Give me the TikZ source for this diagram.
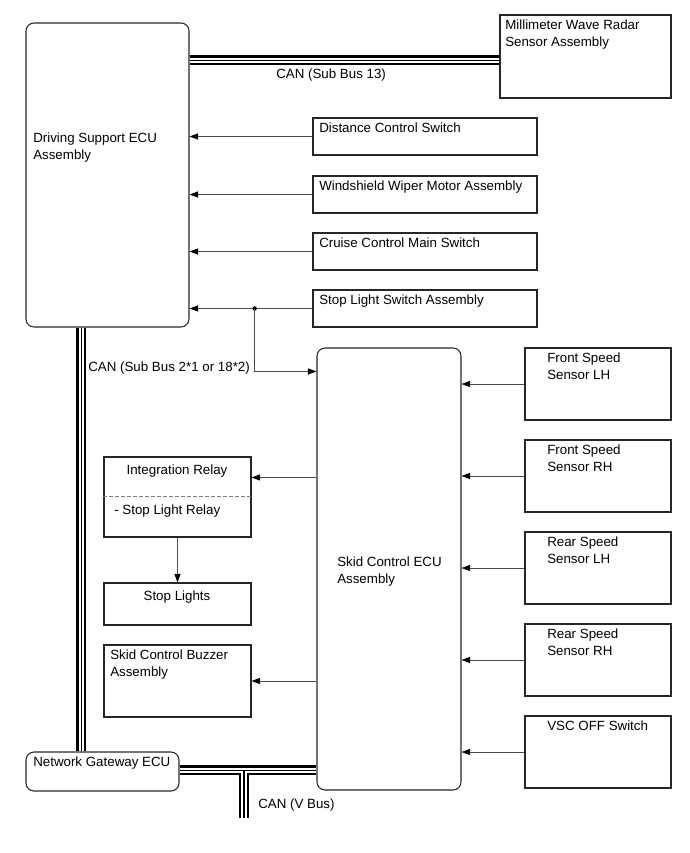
\documentclass[tikz,border=0pt]{standalone}
\usepackage{fontspec}
\setmainfont{Liberation Sans}
\usetikzlibrary{calc,fit,arrows.meta}

\tikzset{
  box/.style={draw=black!85, line width=0.8pt, inner sep=0pt},
  ecu/.style={box, rounded corners=6pt},
  txt/.style={anchor=north west, inner sep=0pt, align=left, font=\fontsize{10pt}{12.5pt}\selectfont},
  sig/.style={black!70, line width=0.6pt},
  busout/.style={line width=7.5pt},
  busmid/.style={line width=4pt, white},
  buscore/.style={line width=1.3pt},
}

\begin{document}
\begin{tikzpicture}[x=0.75pt, y=-0.75pt, >={Triangle[length=6.5pt,width=4.6pt,color=black]}]
\useasboundingbox (0,0) rectangle (689,853);
% ECUs
\node[ecu, fit={(26,23) (189,327)}] (dse) {};
\node[txt] (dse-t) at (33,133) {Driving Support ECU\\Assembly};
\node[ecu, fit={(317,348) (461,790)}] (sce) {};
\node[txt] (sce-t) at (337,557) {Skid Control ECU\\Assembly};
\node[ecu, fit={(26,752) (179,791)}] (gw) {};
\node[txt] (gw-t) at (33,757) {Network Gateway ECU};

% radar
\node[box, fit={(500,15) (671,98)}] (mwr) {};
\node[txt] (mwr-t) at (505,20) {Millimeter Wave Radar\\Sensor Assembly};

% switches for driving support
\node[box, fit={(313,118) (537,155)}] (dcs) {};
\node[txt] at (319,123) {Distance Control Switch};
\node[box, fit={(313,176) (537,213)}] (wwm) {};
\node[txt] at (319,181) {Windshield Wiper Motor Assembly};
\node[box, fit={(313,233) (537,270)}] (ccm) {};
\node[txt] at (319,238) {Cruise Control Main Switch};
\node[box, fit={(313,290) (537,327)}] (sls) {};
\node[txt] at (319,295) {Stop Light Switch Assembly};

% sensors
\node[box, fit={(525,348) (671,420)}] (fsl) {};
\node[txt] at (547,353) {Front Speed\\Sensor LH};
\node[box, fit={(525,440) (671,512)}] (fsr) {};
\node[txt] at (547,445) {Front Speed\\Sensor RH};
\node[box, fit={(525,532) (671,604)}] (rsl) {};
\node[txt] at (547,537) {Rear Speed\\Sensor LH};
\node[box, fit={(525,624) (671,696)}] (rsr) {};
\node[txt] at (547,629) {Rear Speed\\Sensor RH};
\node[box, fit={(525,716) (671,788)}] (vsc) {};
\node[txt] at (547,721) {VSC OFF Switch};

% outputs
\node[box, fit={(104,457) (251,537)}] (ir) {};
\node[txt, anchor=north] at (177,465) {Integration Relay};
\draw[gray, dash pattern=on 3pt off 1.5pt] ($(ir.north west)+(0,40)$) -- ($(ir.north east)+(0,40)$);
\node[txt] at (114,505) {- Stop Light Relay};
\node[box, fit={(104,583) (251,625)}] (sl) {};
\node[txt, anchor=north] at (177,591) {Stop Lights};
\node[box, fit={(104,645) (251,717)}] (bz) {};
\node[txt] at (110,650) {Skid Control Buzzer\\Assembly};

% signal lines
\foreach \s in {dcs,wwm,ccm,sls}
  \draw[sig,->] (\s.west) -- (\s.west -| dse.east);
\foreach \s in {fsl,fsr,rsl,rsr,vsc}
  \draw[sig,->] (\s.west) -- (\s.west -| sce.east);
\path (sls.west) -- (sls.west -| dse.east) coordinate[pos=0.47] (jn);
\fill (jn) circle (2.2);
\coordinate (sin) at ($(sce.north west)+(0,24)$);
\draw[sig,->] (jn) |- (sin);
\coordinate (irin) at ($(ir.north east)+(0,21)$);
\draw[sig,->] (irin -| sce.west) -- (irin);
\draw[sig,->] (ir.south) -- (sl.north);
\draw[sig,->] (bz.east -| sce.west) -- (bz.east);

% CAN buses
\coordinate (b1) at ($(dse.north east)+(0,38)$);
\coordinate (b2) at ($(dse.south west)+(56,0)$);
\coordinate (b3) at ($(gw.north east)+(0,19)$);
\coordinate (b4) at (244,818);
\foreach \st in {busout,busmid,buscore} {
  \draw[\st] (b1) -- (b1 -| mwr.west);
  \draw[\st] (b2) -- (b2 |- gw.north);
  \draw[\st] (b3) -- (b3 -| sce.west);
  \draw[\st] (b4 |- b3) -- (b4);
}
\node[txt, anchor=west] (can1) at (276,75) {CAN (Sub Bus 13)};
\node[txt, anchor=west] (can2) at (88,368) {CAN (Sub Bus 2*1 or 18*2)};
\node[txt, anchor=west] (can3) at (258,805) {CAN (V Bus)};
\end{tikzpicture}
\end{document}
